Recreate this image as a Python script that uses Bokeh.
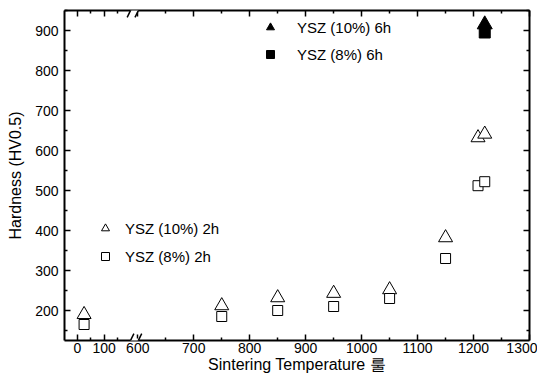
from bokeh.plotting import figure
from bokeh.models import (LinearAxis, FixedTicker, Range1d, Legend, LegendItem, Arrow)
from bokeh.embed import file_html
from bokeh.resources import INLINE

# ---- data ----
temp_2h = [25, 750, 850, 950, 1050, 1150, 1208, 1220]
ysz10_2h = [190, 212, 232, 243, 252, 382, 632, 641]
ysz8_2h = [165, 185, 200, 210, 230, 330, 512, 522]
temp_6h = [1220]
ysz10_6h = [915]
ysz8_6h = [895]

x_major = [0, 100, 600, 700, 800, 900, 1000, 1100, 1200, 1300]
x_minor = [50, 150, 650, 750, 850, 950, 1050, 1150, 1250]
y_major = [200, 300, 400, 500, 600, 700, 800, 900]
y_minor = [150, 250, 350, 450, 550, 650, 750, 850, 950]

# ---- broken x axis mapping ----
LOW_SCALE = 0.48
LOW_OFFSET = 492

def xmap(t):
    return LOW_OFFSET + LOW_SCALE * t if t <= 300 else t

BREAK_U = 594
X0, X1 = 469, 1300
Y0, Y1 = 125, 950

FONT = "Liberation Sans"

p = figure(width=537, height=376, output_backend="svg", toolbar_location=None,
           x_range=Range1d(X0, X1), y_range=Range1d(Y0, Y1),
           x_axis_location=None, y_axis_location=None,
           min_border_left=64, min_border_right=8, min_border_top=10, min_border_bottom=36)
p.grid.visible = False
p.outline_line_color = None
p.background_fill_color = "white"
p.border_fill_color = "white"

xt = FixedTicker(ticks=[xmap(t) for t in x_major], minor_ticks=[xmap(t) for t in x_minor])
yt = FixedTicker(ticks=y_major, minor_ticks=y_minor)
overrides = {xmap(t): str(t) for t in x_major}


def style(ax, labels=True):
    ax.axis_line_width = 2
    ax.axis_line_color = "black"
    ax.major_tick_in = 6
    ax.major_tick_out = 0
    ax.minor_tick_in = 3
    ax.minor_tick_out = 0
    ax.major_tick_line_width = 1.5
    ax.minor_tick_line_width = 1.5
    ax.major_tick_line_color = "black"
    ax.minor_tick_line_color = "black"
    ax.major_label_text_font = FONT
    ax.axis_label_text_font = FONT
    ax.axis_label_text_font_style = "normal"
    ax.axis_label_text_color = "black"
    ax.axis_label_text_font_size = "16px"
    if labels:
        ax.major_label_text_font_size = "14px"
        ax.major_label_text_color = "black"
        ax.major_label_standoff = 2
    else:
        ax.major_label_text_font_size = "1px"
        ax.major_label_text_color = None
        ax.major_label_standoff = 0


xb = LinearAxis(ticker=xt, axis_label="Sintering Temperature 룰")
style(xb)
xb.major_label_overrides = overrides
xb.axis_label_standoff = 0
p.add_layout(xb, "below")

xa = LinearAxis(ticker=xt)
style(xa, labels=False)
xa.major_label_overrides = overrides
p.add_layout(xa, "above")

yl = LinearAxis(ticker=yt, axis_label="Hardness (HV0.5)")
style(yl)
yl.major_label_standoff = 6
yl.axis_label_standoff = 8
p.add_layout(yl, "left")

yr = LinearAxis(ticker=yt)
style(yr, labels=False)
p.add_layout(yr, "right")

xs_2h = [xmap(t) for t in temp_2h]
xs_6h = [xmap(t) for t in temp_6h]

r10 = p.scatter(xs_2h, ysz10_2h, marker="triangle", size=14, line_color="black",
                fill_color="white", line_width=1)
r8 = p.scatter(xs_2h, ysz8_2h, marker="square", size=10, line_color="black",
               fill_color="white", line_width=1)
r10b = p.scatter(xs_6h, ysz10_6h, marker="triangle", size=15, line_color="black",
                 fill_color="black", line_width=1)
r8b = p.scatter(xs_6h, ysz8_6h, marker="square", size=11, line_color="black",
                fill_color="black", line_width=1)

# ---- axis break marks ----
dy = 17
for yb in (Y0, Y1):
    p.add_layout(Arrow(end=None, x_start=BREAK_U - 7, y_start=yb, x_end=BREAK_U + 7, y_end=yb,
                       line_color="white", line_width=4))
    for c in (BREAK_U - 7, BREAK_U + 7):
        p.add_layout(Arrow(end=None, x_start=c - 6, y_start=yb - dy, x_end=c + 6, y_end=yb + dy,
                           line_color="black", line_width=1.5))


def make_legend(items, loc, standoff, spacing):
    lg = Legend(items=items, location=loc, orientation="vertical")
    lg.background_fill_alpha = 0
    lg.border_line_color = None
    lg.padding = 0
    lg.margin = 0
    lg.glyph_width = 20
    lg.glyph_height = 20
    lg.label_height = 20
    lg.spacing = spacing
    lg.label_standoff = standoff
    lg.label_text_font = FONT
    lg.label_text_font_size = "15px"
    lg.label_text_color = "black"
    return lg

lg1 = make_legend([LegendItem(label="YSZ (10%) 6h", renderers=[r10b]),
                   LegendItem(label="YSZ (8%) 6h", renderers=[r8b])], (196, 276), 17, 7)
lg2 = make_legend([LegendItem(label="YSZ (10%) 2h", renderers=[r10]),
                   LegendItem(label="YSZ (8%) 2h", renderers=[r8])], (31, 74), 10, 8)
p.add_layout(lg1, "center")
p.add_layout(lg2, "center")

open("out.html", "w").write(file_html(p, INLINE))
